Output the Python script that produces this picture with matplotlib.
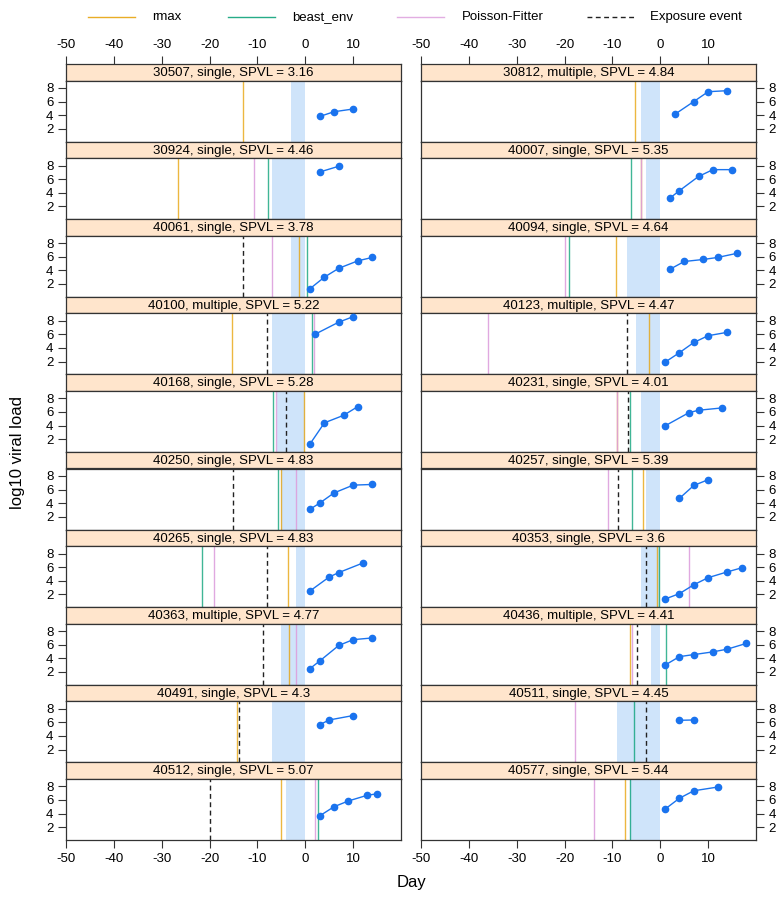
import matplotlib
matplotlib.use("Agg")
import matplotlib.pyplot as plt
from matplotlib.lines import Line2D

plt.rcParams['font.family'] = ['Liberation Sans', 'DejaVu Sans']
plt.rcParams['axes.unicode_minus'] = False

# ---- data -------------------------------------------------------------
patient_ids = ["30507", "30812", "30924", "40007", "40061", "40094", "40100", "40123",
               "40168", "40231", "40250", "40257", "40265", "40353", "40363", "40436",
               "40491", "40511", "40512", "40577"]
transmission = ["single", "multiple", "single", "single", "single", "single", "multiple",
                "multiple", "single", "single", "single", "single", "single", "single",
                "multiple", "multiple", "single", "single", "single", "single"]
spvl = ["3.16", "4.84", "4.46", "5.35", "3.78", "4.64", "5.22", "4.47", "5.28", "4.01",
        "4.83", "5.39", "4.83", "3.6", "4.77", "4.41", "4.3", "4.45", "5.07", "5.44"]

# estimated infection day by method (None = no estimate)
rmax_day = [-13.0, -5.2, -26.5, -4.0, -1.3, -9.2, -15.3, -2.4, -0.3, -9.0,
            -5.1, -3.6, -3.7, -0.7, -3.5, -6.35, -14.2, None, -5.1, -7.4]
beast_env_day = [None, None, -7.8, -6.1, 0.4, -19.0, 1.4, None, -6.7, -6.35,
                 -5.6, -6.0, -21.5, -0.3, None, 1.25, None, -5.5, 2.6, -6.3]
poisson_fitter_day = [None, None, -10.8, -4.0, -6.9, -20.0, 1.9, -36.0, -6.2, -9.1,
                      -2.0, -10.9, -19.0, 6.1, -1.9, -5.9, None, -17.9, 2.0, -13.9]
exposure_day = [None, None, None, None, -13.0, None, -7.9, -6.9, -4.0, -6.8,
                -15.0, -8.9, -7.9, -2.9, -8.9, -4.9, -13.9, -2.9, -19.9, None]

# Fiebig window before first positive sample (ends at day 0)
window_start = [-3, -4, -7, -3, -3, -7, -7, -5, -6, -4,
                -5, -3, -2, -4, -5, -2, -7, -9, -4, -6.3]

sample_days = [
    [3, 6, 10], [3, 7, 10, 14], [3, 7], [2, 4, 8, 11, 15],
    [1, 4, 7, 11, 14], [2, 5, 9, 12, 16], [2, 7, 10], [1, 4, 7, 10, 14],
    [1, 4, 8, 11], [1, 6, 8, 13], [1, 3, 6, 10, 14], [4, 7, 10],
    [1, 5, 7, 12], [1, 4, 7, 10, 14, 17], [1, 3, 7, 10, 14], [1, 4, 7, 11, 14, 18],
    [3, 5, 10], [4, 7], [3, 6, 9, 13, 15], [1, 4, 7, 12],
]
viral_load = [
    [3.8, 4.5, 4.9], [4.1, 6.0, 7.45, 7.6], [7.05, 7.9], [3.2, 4.3, 6.4, 7.4, 7.4],
    [1.3, 3.0, 4.3, 5.4, 5.9], [4.15, 5.3, 5.6, 5.9, 6.5], [6.0, 7.8, 8.6],
    [1.9, 3.3, 4.8, 5.8, 6.3],
    [1.3, 4.4, 5.5, 6.8], [3.95, 5.9, 6.25, 6.6], [3.1, 4.0, 5.5, 6.65, 6.75],
    [4.7, 6.6, 7.45],
    [2.5, 4.55, 5.2, 6.6], [1.3, 2.1, 3.4, 4.45, 5.3, 5.9], [2.5, 3.6, 5.9, 6.75, 7.0],
    [3.0, 4.25, 4.55, 4.95, 5.35, 6.2],
    [5.65, 6.35, 7.0], [6.3, 6.35], [3.65, 5.0, 5.85, 6.7, 6.9], [4.65, 6.25, 7.35, 7.9],
]

x_ticks = [-50, -40, -30, -20, -10, 0, 10]
y_ticks = [2, 4, 6, 8]

# ---- styling ------------------------------------------------------------
COL_RMAX = "#E69F00"
COL_BEAST = "#009E73"
COL_POISSON = "#DDA0DD"
COL_EXPOSURE = "#222222"
COL_WINDOW = "#cfe4fa"
COL_POINTS = "#1a73ee"
COL_STRIP = "#ffe5cc"
COL_FRAME = "#333333"
FS = 9.5

W, H = 780, 898
fig = plt.figure(figsize=(W / 100, H / 100), dpi=100)


def fx(px):
    return px / W


def fy(py):
    return 1 - py / H


col_left = [66, 421]
col_width = 335
top = 64
row_h = 77.6
strip_h = 16.5
n_rows = 10
xlim = (-50, 20)
ylim = (0.1, 9.1)


def style_frame(ax):
    for s in ax.spines.values():
        s.set_color(COL_FRAME)
        s.set_linewidth(0.9)


for i, pid in enumerate(patient_ids):
    row, col = divmod(i, 2)
    x0 = col_left[col]
    y_strip = top + row * row_h
    y_plot = y_strip + strip_h
    y_bottom = top + (row + 1) * row_h

    # strip with panel title
    sax = fig.add_axes([fx(x0), fy(y_plot), col_width / W, strip_h / H])
    sax.set_facecolor(COL_STRIP)
    sax.set_xlim(*xlim)
    sax.set_ylim(0, 1)
    sax.set_yticks([])
    style_frame(sax)
    sax.text(0.5, 0.45, f"{pid}, {transmission[i]}, SPVL = {spvl[i]}",
             transform=sax.transAxes, ha="center", va="center", fontsize=FS)
    if row == 0:
        sax.xaxis.set_ticks_position("top")
        sax.set_xticks(x_ticks)
        sax.tick_params(axis="x", direction="out", length=6, width=0.8,
                        pad=3, labelsize=FS, colors=COL_FRAME, labelcolor="black")
    else:
        sax.set_xticks([])

    # panel
    ax = fig.add_axes([fx(x0), fy(y_bottom), col_width / W, (y_bottom - y_plot) / H])
    ax.set_xlim(*xlim)
    ax.set_ylim(*ylim)
    style_frame(ax)

    ax.axvspan(window_start[i], 0, color=COL_WINDOW, lw=0, zorder=1)
    for val, c, a in ((rmax_day[i], COL_RMAX, 0.75),
                      (beast_env_day[i], COL_BEAST, 0.75),
                      (poisson_fitter_day[i], COL_POISSON, 0.9)):
        if val is not None:
            ax.axvline(val, color=c, lw=1.0, alpha=a, zorder=2)
    if exposure_day[i] is not None:
        ax.axvline(exposure_day[i], color=COL_EXPOSURE, lw=1.0,
                   dashes=(3.5, 2.5), zorder=2)

    ax.plot(sample_days[i], viral_load[i], color=COL_POINTS, lw=1.0,
            marker="o", markersize=4.5, zorder=3)

    ax.set_yticks(y_ticks)
    if col == 0:
        ax.yaxis.set_ticks_position("left")
    else:
        ax.yaxis.set_ticks_position("right")
    ax.tick_params(axis="y", direction="out", length=6, width=0.8, pad=3,
                   labelsize=FS, colors=COL_FRAME, labelcolor="black")
    if row == n_rows - 1:
        ax.set_xticks(x_ticks)
        ax.tick_params(axis="x", direction="out", length=6, width=0.8, pad=3,
                       labelsize=FS, colors=COL_FRAME, labelcolor="black")
    else:
        ax.set_xticks([])

# ---- legend --------------------------------------------------------------
legend_items = [
    ("rmax", COL_RMAX, "-", 88, 152),
    ("beast_env", COL_BEAST, "-", 228, 292),
    ("Poisson-Fitter", COL_POISSON, "-", 397, 462),
    ("Exposure event", COL_EXPOSURE, "--", 587, 650),
]
for label, c, ls, lx, tx in legend_items:
    ln = Line2D([fx(lx), fx(lx + 47)], [fy(17), fy(17)], transform=fig.transFigure,
                color=c, lw=1.0, alpha=0.85 if ls == "-" else 1.0)
    if ls == "--":
        ln.set_dashes((3.5, 2.5))
    fig.add_artist(ln)
    fig.text(fx(tx), fy(17), label, ha="left", va="center", fontsize=FS)

fig.text(fx(411), fy(882), "Day", ha="center", va="center", fontsize=12)
fig.text(fx(18), fy(452), "log10 viral load", ha="center", va="center",
         rotation=90, fontsize=12)

fig.savefig("out.png", dpi=100)
